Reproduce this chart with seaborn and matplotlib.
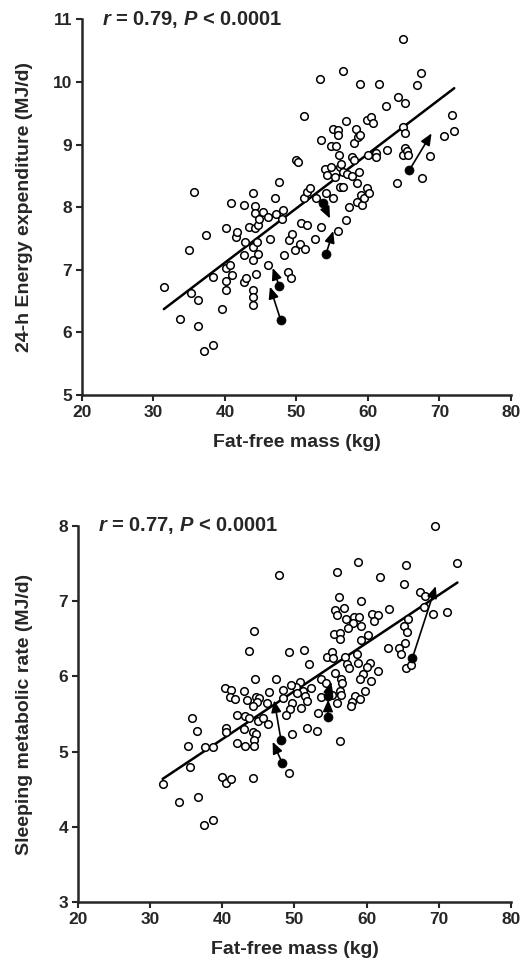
import matplotlib
matplotlib.use('Agg')
import matplotlib.pyplot as plt
import pandas as pd
import seaborn as sns

# --- 24-h energy expenditure vs fat-free mass (open circles) ---
ee_ffm = [31.45, 33.7, 35.0, 35.24, 35.62, 36.18, 36.27, 37.06, 37.34, 38.28, 38.36, 39.53,
          40.1, 40.1, 40.14, 40.14, 40.7, 40.8, 40.98, 41.5, 41.63, 42.66, 42.66, 42.7, 42.8,
          42.9, 43.4, 43.87, 43.87, 43.87, 43.87, 43.87, 43.96, 44.2, 44.2, 44.2, 44.34, 44.43,
          44.57, 44.66, 44.8, 45.27, 45.97, 45.97, 46.29, 47.04, 47.2, 47.6, 48.0, 48.07, 48.25,
          48.85, 48.95, 49.19, 49.33, 49.79, 49.89, 50.25, 50.49, 50.63, 51.05, 51.05, 51.19,
          51.43, 51.43, 51.89, 52.59, 52.73, 53.33, 53.38, 53.5, 53.99, 54.13, 54.22, 54.78,
          54.87, 55.05, 55.1, 55.33, 55.52, 55.76, 55.76, 55.76, 55.9, 56.08, 56.13, 56.22,
          56.55, 56.55, 56.55, 56.92, 57.0, 57.06, 57.34, 57.72, 57.8, 58.08, 58.08, 58.36,
          58.42, 58.46, 58.64, 58.78, 58.84, 58.84, 59.06, 59.2, 59.48, 59.8, 59.9, 60.04,
          60.14, 60.38, 60.66, 61.12, 61.12, 61.5, 62.52, 62.66, 64.06, 64.2, 64.85, 64.85,
          64.93, 65.13, 65.13, 65.2, 65.4, 65.6, 66.9, 67.37, 67.55, 68.67, 70.6, 71.8, 72.07]
ee_val = [6.73, 6.21, 7.31, 6.63, 8.25, 6.52, 6.10, 5.71, 7.55, 5.80, 6.89, 6.38,
          7.67, 7.03, 6.82, 6.68, 7.08, 8.06, 6.91, 7.52, 7.61, 8.03, 7.24, 6.80, 7.44,
          6.87, 7.69, 8.22, 7.37, 6.68, 6.56, 6.44, 7.16, 8.02, 7.90, 7.66, 6.93, 7.45,
          7.72, 7.25, 7.81, 7.92, 7.85, 7.08, 7.49, 8.14, 7.89, 8.40, 7.81, 7.95, 7.23,
          6.96, 7.48, 6.87, 7.58, 7.32, 8.76, 8.72, 7.41, 7.74, 8.14, 9.46, 7.33,
          7.72, 8.25, 8.30, 7.50, 8.14, 10.05, 9.07, 7.69, 8.61, 8.22, 8.51, 8.65,
          8.97, 8.14, 9.25, 8.49, 8.98, 9.23, 9.16, 7.62, 8.84, 8.65, 8.33, 8.69,
          8.56, 8.32, 10.17, 9.38, 7.79, 8.53, 8.01, 8.50, 8.81, 8.76, 9.02, 9.25,
          8.09, 8.38, 9.12, 8.57, 9.16, 9.97, 8.19, 8.04, 8.15, 8.31, 9.40, 8.84,
          8.22, 9.44, 9.34, 8.86, 8.81, 9.97, 9.62, 8.92, 8.38, 9.76, 10.69, 9.28,
          8.84, 9.67, 9.18, 8.94, 8.89, 8.84, 9.96, 10.14, 8.47, 8.82, 9.13, 9.48, 9.22]

# subjects measured twice: first visit (filled) -> second visit (arrow head)
ee_first_ffm = [47.79, 47.6, 53.65, 54.13, 65.78]
ee_first_val = [6.20, 6.74, 8.07, 7.25, 8.59]
ee_second_ffm = [46.29, 46.67, 54.69, 55.15, 68.9]
ee_second_val = [6.73, 7.03, 7.82, 7.62, 9.18]

# --- Sleeping metabolic rate vs fat-free mass ---
smr_ffm = [69.51, 72.59, 65.52, 58.78, 55.91, 47.84, 61.9, 65.25, 67.37, 68.06, 56.18, 59.17,
           63.12, 55.6, 56.84, 55.83, 57.08, 58.27, 58.96, 58.13, 59.2, 57.44, 60.68, 61.51,
           61.0, 67.92, 65.8, 65.19, 65.57, 69.21, 71.11, 55.5, 56.25, 56.29, 59.2, 60.21,
           62.94, 65.29, 64.5, 64.7, 51.34, 54.45, 55.14, 55.28, 56.98, 58.6, 57.35, 57.49,
           58.82, 60.44, 60.07, 61.55, 51.99, 55.55, 56.43, 56.52, 56.29, 56.38, 59.47, 59.06,
           60.58, 59.75, 58.36, 59.06, 57.91, 57.77, 50.75, 52.27, 51.2, 51.4, 51.76, 50.93,
           53.66, 54.35, 53.7, 55.14, 55.83, 53.24, 51.68, 53.06, 56.29, 65.52, 66.22, 44.42,
           43.73, 49.27, 44.47, 47.42, 50.15, 49.46, 48.43, 50.29, 40.36, 41.23, 41.05, 41.74,
           43.06, 43.38, 44.65, 45.11, 44.79, 46.52, 46.22, 48.35, 49.6, 49.4, 48.81, 44.2,
           42.05, 43.2, 43.64, 44.93, 45.62, 46.36, 35.86, 36.48, 40.47, 40.47, 42.99, 44.24,
           44.65, 44.42, 41.99, 43.09, 44.35, 35.3, 37.59, 38.7, 49.71, 35.55, 49.25, 39.94,
           40.5, 41.19, 44.28, 31.73, 34.03, 36.66, 37.45, 38.66]
smr_val = [8.00, 7.51, 7.48, 7.52, 7.39, 7.35, 7.32, 7.23, 7.12, 7.07, 7.05, 7.00,
           6.89, 6.88, 6.91, 6.82, 6.76, 6.79, 6.79, 6.71, 6.67, 6.65, 6.83, 6.82,
           6.73, 6.92, 6.76, 6.67, 6.59, 6.83, 6.86, 6.57, 6.58, 6.50, 6.49, 6.55,
           6.38, 6.45, 6.38, 6.30, 6.35, 6.26, 6.33, 6.24, 6.26, 6.30, 6.17, 6.11,
           6.18, 6.18, 6.12, 6.07, 6.16, 6.05, 5.97, 5.91, 5.81, 5.75, 6.03, 5.97,
           5.94, 5.80, 5.74, 5.70, 5.66, 5.60, 5.92, 5.85, 5.81, 5.74, 5.67, 5.58,
           5.96, 5.91, 5.73, 5.75, 5.65, 5.51, 5.31, 5.27, 5.14, 6.11, 6.15, 6.60,
           6.34, 6.32, 5.97, 5.96, 5.86, 5.89, 5.82, 5.78, 5.84, 5.82, 5.73, 5.70,
           5.80, 5.69, 5.73, 5.71, 5.66, 5.79, 5.65, 5.71, 5.64, 5.57, 5.49, 5.60,
           5.48, 5.47, 5.45, 5.40, 5.45, 5.37, 5.44, 5.28, 5.32, 5.26, 5.30, 5.26,
           5.23, 5.15, 5.11, 5.07, 5.07, 5.07, 5.06, 5.06, 5.23, 4.80, 4.72, 4.66,
           4.58, 4.64, 4.65, 4.57, 4.33, 4.39, 4.02, 4.09]

smr_first_ffm = [48.12, 48.3, 54.63, 54.6, 66.33]
smr_first_val = [5.16, 4.85, 5.46, 5.74, 6.24]
smr_second_ffm = [47.19, 46.97, 54.67, 55.1, 69.58]
smr_second_val = [5.68, 5.13, 5.69, 5.93, 7.20]

x_ticks = [20, 30, 40, 50, 60, 70, 80]
ee_ticks = [5, 6, 7, 8, 9, 10, 11]
smr_ticks = [3, 4, 5, 6, 7, 8]

sns.set_style('ticks')
plt.rcParams['font.family'] = ['Liberation Sans', 'DejaVu Sans']
plt.rcParams['font.weight'] = 'bold'
plt.rcParams['axes.labelweight'] = 'bold'
plt.rcParams['mathtext.fontset'] = 'custom'
plt.rcParams['mathtext.it'] = 'Liberation Sans:italic:bold'
plt.rcParams['mathtext.rm'] = 'Liberation Sans:bold'

fig = plt.figure(figsize=(5.30, 9.71), dpi=100)
ax1 = fig.add_axes([0.1547, 0.5932, 0.8093, 0.3868])
ax2 = fig.add_axes([0.1472, 0.0711, 0.8168, 0.3872])


def panel(ax, ffm, val, f_ffm, f_val, s_ffm, s_val, yticks, ylabel, stat, ylab_x):
    df = pd.DataFrame({'ffm': ffm, 'val': val})
    sns.regplot(data=df, x='ffm', y='val', scatter=False, ci=None, truncate=True,
                line_kws=dict(color='black', lw=1.8, zorder=2), ax=ax)
    sns.scatterplot(data=df, x='ffm', y='val', s=30, facecolor='white',
                    edgecolor='black', linewidth=1.1, ax=ax, zorder=3, clip_on=False)
    for x0, y0, x1, y1 in zip(f_ffm, f_val, s_ffm, s_val):
        ax.annotate('', xy=(x1, y1), xytext=(x0, y0),
                    arrowprops=dict(arrowstyle='-|>,head_length=0.7,head_width=0.3',
                                    color='black', lw=1.2, shrinkA=0, shrinkB=0),
                    zorder=4)
    sns.scatterplot(x=f_ffm, y=f_val, s=42, color='black', edgecolor='black',
                    linewidth=0.5, ax=ax, zorder=5, clip_on=False)
    ax.set_xlim(x_ticks[0], x_ticks[-1])
    ax.set_ylim(yticks[0], yticks[-1])
    ax.set_xticks(x_ticks)
    ax.set_yticks(yticks)
    sns.despine(ax=ax)
    for s in ['left', 'bottom']:
        ax.spines[s].set_linewidth(1.8)
    ax.tick_params(direction='out', length=4, width=1.5, labelsize=12.5, pad=3)
    ax.set_xlabel('Fat-free mass (kg)', fontsize=14)
    ax.set_ylabel(ylabel, fontsize=14)
    ax.xaxis.set_label_coords(0.5, -0.105)
    ax.yaxis.set_label_coords(ylab_x, 0.5)
    ax.text(0.046, 1.0, stat, transform=ax.transAxes, fontsize=14.5,
            fontweight='bold', va='center', ha='left')


panel(ax1, ee_ffm, ee_val, ee_first_ffm, ee_first_val, ee_second_ffm, ee_second_val,
      ee_ticks, '24-h Energy expenditure (MJ/d)', r'$\mathit{r}$ = 0.79, $\mathit{P}$ < 0.0001',
      -0.114)
panel(ax2, smr_ffm, smr_val, smr_first_ffm, smr_first_val, smr_second_ffm, smr_second_val,
      smr_ticks, 'Sleeping metabolic rate (MJ/d)', r'$\mathit{r}$ = 0.77, $\mathit{P}$ < 0.0001',
      -0.104)

fig.savefig('out.png', dpi=100, facecolor='white')
